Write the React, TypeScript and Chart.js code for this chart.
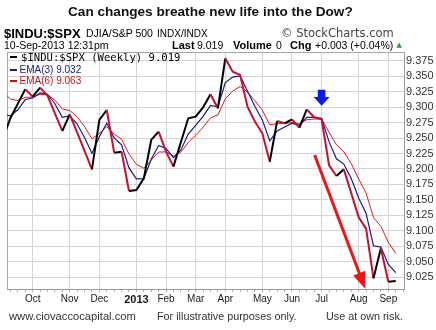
import React, { useEffect, useRef } from 'react';
import { Chart, registerables } from 'chart.js';

Chart.register(...registerables);

// Weekly closes of $INDU:$SPX, week 0 = early Sep 2012 ... week 53 = 9 Sep 2013
const PRICE = [
  9.2496, 9.2824, 9.3056, 9.3287, 9.3169, 9.3314, 9.3185, 9.2899, 9.2614, 9.2883,
  9.2592, 9.2291, 9.1994, 9.2792, 9.2953, 9.2264, 9.2280, 9.1644, 9.1660, 9.1849,
  9.2469, 9.2603, 9.2280, 9.2038, 9.2431, 9.2819, 9.2846, 9.2996, 9.3207, 9.2980,
  9.3788, 9.3573, 9.3519, 9.3007, 9.2765, 9.2576, 9.2118, 9.2776, 9.2738, 9.2802,
  9.2668, 9.2964, 9.2835, 9.2802, 9.2064, 9.1887, 9.1994, 9.1610, 9.1220, 9.1040,
  9.0233, 9.0718, 9.0179, 9.0190,
];
const EMA3 = [
  9.2889, 9.2857, 9.2957, 9.3122, 9.3146, 9.3230, 9.3208, 9.3054, 9.2834, 9.2859,
  9.2726, 9.2509, 9.2252, 9.2522, 9.2738, 9.2501, 9.2391, 9.2018, 9.1839, 9.1844,
  9.2157, 9.2380, 9.2330, 9.2184, 9.2308, 9.2564, 9.2705, 9.2851, 9.3029, 9.3005,
  9.3397, 9.3485, 9.3502, 9.3255, 9.3010, 9.2793, 9.2456, 9.2616, 9.2677, 9.2740,
  9.2704, 9.2834, 9.2835, 9.2819, 9.2442, 9.2165, 9.2080, 9.1845, 9.1533, 9.1287,
  9.0760, 9.0739, 9.0459, 9.0325,
];
const EMA6 = [
  9.3250, 9.3128, 9.3107, 9.3158, 9.3161, 9.3205, 9.3199, 9.3113, 9.2970, 9.2945,
  9.2844, 9.2686, 9.2488, 9.2575, 9.2683, 9.2563, 9.2482, 9.2243, 9.2076, 9.2011,
  9.2142, 9.2274, 9.2276, 9.2208, 9.2272, 9.2428, 9.2547, 9.2675, 9.2827, 9.2871,
  9.3133, 9.3259, 9.3333, 9.3240, 9.3104, 9.2953, 9.2714, 9.2732, 9.2734, 9.2753,
  9.2729, 9.2796, 9.2807, 9.2806, 9.2594, 9.2392, 9.2278, 9.2087, 9.1839, 9.1611,
  9.1217, 9.1074, 9.0818, 9.0639,
];

// first week of each month (week index) and its label
const MONTH_TICK_WEEKS = [4, 9, 13, 18, 22, 26, 30, 35, 39, 43, 48, 52];
const MONTH_LABELS = ['Oct', 'Nov', 'Dec', '2013', 'Feb', 'Mar', 'Apr', 'May', 'Jun', 'Jul', 'Aug', 'Sep'];
const YEAR_TICK_WEEK = 18;
const Y_TICKS = [9.025, 9.05, 9.075, 9.1, 9.125, 9.15, 9.175, 9.2, 9.225, 9.25, 9.275, 9.3, 9.325, 9.35, 9.375];

const X_MIN = 0.534;
const X_MAX = 54.12;
const Y_MIN = 9.0061;
const Y_MAX = 9.389;

// annotation anchors in data units
const BLUE_ARROW = { week: 43, top: 9.328, neck: 9.3163, tip: 9.302 };
const RED_ARROW = { fromWeek: 42.06, fromValue: 9.2226, toWeek: 48.9, toValue: 9.0061 };

const SANS = '"Liberation Sans", Arial, sans-serif';

const overlayPlugin = {
  id: 'overlay',
  beforeDatasetsDraw(chart: any) {
    const { ctx, chartArea: a } = chart;
    ctx.save();
    ctx.strokeStyle = '#a6a6a6';
    ctx.lineWidth = 1;
    ctx.beginPath();
    const l = Math.round(a.left) + 0.5;
    const t = Math.round(a.top) + 0.5;
    ctx.moveTo(l, Math.round(a.bottom));
    ctx.lineTo(l, t);
    ctx.lineTo(Math.round(a.right), t);
    ctx.stroke();
    ctx.restore();
  },
  afterDatasetsDraw(chart: any) {
    const { ctx } = chart;
    const xs = chart.scales.x;
    const ys = chart.scales.y;
    ctx.save();
    // blue arrow
    const bx = xs.getPixelForValue(BLUE_ARROW.week);
    const yTop = ys.getPixelForValue(BLUE_ARROW.top);
    const yNeck = ys.getPixelForValue(BLUE_ARROW.neck);
    const yTip = ys.getPixelForValue(BLUE_ARROW.tip);
    ctx.fillStyle = '#0b1cf0';
    ctx.beginPath();
    ctx.moveTo(bx - 3.8, yTop);
    ctx.lineTo(bx + 3.8, yTop);
    ctx.lineTo(bx + 3.8, yNeck);
    ctx.lineTo(bx + 8, yNeck);
    ctx.lineTo(bx, yTip);
    ctx.lineTo(bx - 8, yNeck);
    ctx.lineTo(bx - 3.8, yNeck);
    ctx.closePath();
    ctx.fill();
    // red arrow
    const x1 = xs.getPixelForValue(RED_ARROW.fromWeek);
    const y1 = ys.getPixelForValue(RED_ARROW.fromValue);
    const x2 = xs.getPixelForValue(RED_ARROW.toWeek);
    const y2 = ys.getPixelForValue(RED_ARROW.toValue);
    const dx = x2 - x1;
    const dy = y2 - y1;
    const len = Math.hypot(dx, dy);
    const ux = dx / len;
    const uy = dy / len;
    const headLen = 17;
    const headHalf = 6.5;
    const hx = x2 - ux * headLen;
    const hy = y2 - uy * headLen;
    ctx.strokeStyle = '#f01418';
    ctx.fillStyle = '#f01418';
    ctx.lineWidth = 3;
    ctx.beginPath();
    ctx.moveTo(x1, y1);
    ctx.lineTo(hx + ux * 2, hy + uy * 2);
    ctx.stroke();
    ctx.beginPath();
    ctx.moveTo(x2, y2);
    ctx.lineTo(hx - uy * headHalf, hy + ux * headHalf);
    ctx.lineTo(hx + uy * headHalf, hy - ux * headHalf);
    ctx.closePath();
    ctx.fill();
    ctx.restore();
  },
};

const abs = (left: number, cy: number, size: number, extra: React.CSSProperties = {}): React.CSSProperties => ({
  position: 'absolute',
  left,
  top: cy - size / 2,
  fontSize: size,
  lineHeight: `${size}px`,
  whiteSpace: 'nowrap',
  fontFamily: SANS,
  color: '#000',
  ...extra,
});

export default function App() {
  const ref = useRef<HTMLCanvasElement>(null);

  useEffect(() => {
    const canvas = ref.current;
    if (!canvas) return;
    const weekTicks: number[] = [];
    for (let w = Math.ceil(X_MIN); w <= Math.floor(X_MAX); w++) weekTicks.push(w);

    const chart = new Chart(canvas, {
      type: 'line',
      data: {
        datasets: [
          {
            label: '$INDU:$SPX (Weekly)',
            data: PRICE.map((y, i) => ({ x: i, y })),
            borderColor: '#000',
            borderWidth: 2,
            pointRadius: 0,
            tension: 0,
            segment: {
              borderColor: (c: any) => (c.p1.parsed.y < c.p0.parsed.y ? '#c8102e' : '#000'),
            },
          },
          {
            label: 'EMA(3)',
            data: EMA3.map((y, i) => ({ x: i, y })),
            borderColor: '#1a1a84',
            borderWidth: 1.2,
            pointRadius: 0,
            tension: 0,
          },
          {
            label: 'EMA(6)',
            data: EMA6.map((y, i) => ({ x: i, y })),
            borderColor: '#e4161b',
            borderWidth: 1,
            pointRadius: 0,
            tension: 0,
          },
        ],
      },
      options: {
        responsive: false,
        animation: false,
        events: [],
        layout: { padding: { left: 7, top: 52, right: 0, bottom: 21 } },
        plugins: {
          legend: { display: false },
          tooltip: { enabled: false },
          title: { display: false },
        },
        scales: {
          x: {
            type: 'linear',
            min: X_MIN,
            max: X_MAX,
            afterBuildTicks: (s: any) => {
              s.ticks = weekTicks.map((v) => ({ value: v }));
            },
            afterFit: (s: any) => {
              s.height = 20;
            },
            ticks: {
              autoSkip: false,
              maxRotation: 0,
              minRotation: 0,
              padding: 1,
              color: '#1a1a1a',
              font: (c: any) =>
                c.tick && c.tick.value === YEAR_TICK_WEEK
                  ? { family: SANS, size: 11, weight: 'bold' }
                  : { family: SANS, size: 10 },
              callback: (v: any) => {
                const k = MONTH_TICK_WEEKS.indexOf(Number(v));
                return k >= 0 ? MONTH_LABELS[k] : '';
              },
            },
            grid: {
              color: (c: any) =>
                c.tick && MONTH_TICK_WEEKS.includes(c.tick.value) ? '#d4d4d4' : 'rgba(0,0,0,0)',
              tickColor: '#b0b0b0',
              tickLength: 3,
              lineWidth: 1,
            },
            border: { color: '#9a9a9a' },
          },
          y: {
            position: 'right',
            min: Y_MIN,
            max: Y_MAX,
            afterBuildTicks: (s: any) => {
              s.ticks = Y_TICKS.map((v) => ({ value: v }));
            },
            afterFit: (s: any) => {
              s.width = 32;
            },
            ticks: {
              padding: 2,
              color: '#333',
              font: { family: SANS, size: 11 },
              callback: (v: any) => Number(v).toFixed(3),
            },
            grid: { color: '#d4d4d4', drawTicks: false, lineWidth: 1 },
            border: { color: '#9a9a9a' },
          },
        },
      } as any,
      plugins: [overlayPlugin],
    });
    return () => chart.destroy();
  }, []);

  return (
    <div style={{ position: 'fixed', left: 0, top: 0, width: 436, height: 330, background: '#fff', overflow: 'hidden' }}>
      <canvas ref={ref} width={436} height={330} style={{ position: 'absolute', left: 0, top: 0, width: 436, height: 330 }} />
      <div style={abs(68, 12, 13.6, { fontWeight: 'bold', color: '#111' })}>Can changes breathe new life into the Dow?</div>

      <div style={abs(4, 33.3, 13, { fontWeight: 'bold' })}>$INDU:$SPX</div>
      <div style={abs(86, 33.5, 10.5)}>DJIA/S&amp;P 500</div>
      <div style={abs(157, 33.8, 10)}>INDX/INDX</div>
      <div style={abs(281, 33.3, 11.5, { fontFamily: '"DejaVu Sans", Verdana, sans-serif', color: '#444' })}>© StockCharts.com</div>

      <div style={abs(4, 45.7, 10.5)}>10-Sep-2013 12:31pm</div>
      <div style={abs(172, 45.7, 11, { fontWeight: 'bold' })}>Last</div>
      <div style={abs(197, 45.7, 10.5)}>9.019</div>
      <div style={abs(233, 45.7, 11, { fontWeight: 'bold' })}>Volume</div>
      <div style={abs(276, 45.7, 10.5)}>0</div>
      <div style={abs(290, 45.7, 11, { fontWeight: 'bold' })}>Chg</div>
      <div style={abs(315, 45.7, 10.5)}>+0.003 (+0.04%)</div>
      <div style={abs(396.5, 45.5, 7, { color: '#2e9a2e', fontFamily: '"DejaVu Sans", sans-serif' })}>▲</div>

      <div style={{ position: 'absolute', left: 10, top: 56, width: 7, height: 2.4, background: '#000' }} />
      <div style={abs(21, 57, 10.6, { fontFamily: '"DejaVu Sans Mono", "Liberation Mono", monospace' })}>$INDU:$SPX (Weekly) 9.019</div>
      <div style={{ position: 'absolute', left: 10, top: 68.5, width: 7, height: 2, background: '#1a1a84' }} />
      <div style={abs(19.5, 69.5, 10, { color: '#1a1a84' })}>EMA(3) 9.032</div>
      <div style={{ position: 'absolute', left: 10, top: 79.5, width: 7, height: 2, background: '#d01018' }} />
      <div style={abs(19.5, 80.5, 10, { color: '#d01018' })}>EMA(6) 9.063</div>

      <div style={abs(9, 316.7, 11.2, { color: '#333' })}>www.ciovaccocapital.com</div>
      <div style={abs(157, 316.7, 10.8, { color: '#333' })}>For illustrative purposes only.</div>
      <div style={abs(326, 316.7, 10.8, { color: '#333' })}>Use at own risk.</div>
    </div>
  );
}
